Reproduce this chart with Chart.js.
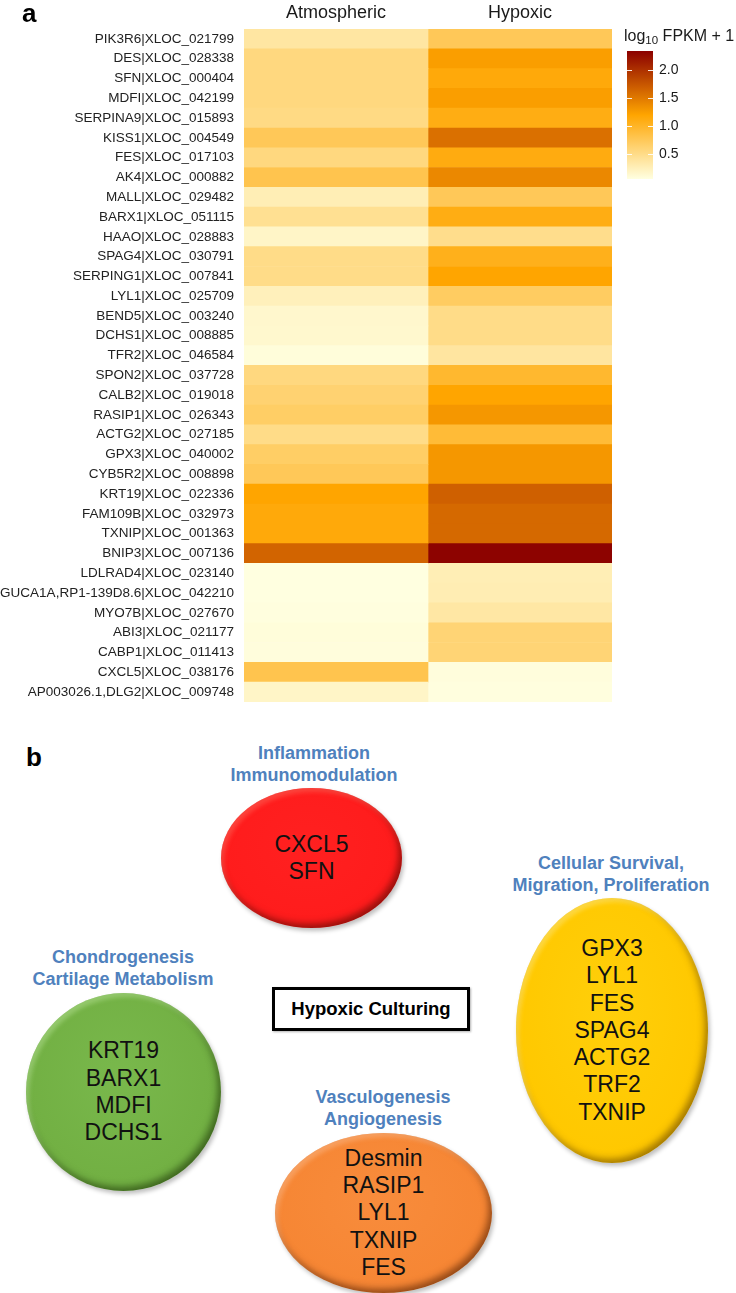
<!DOCTYPE html>
<html>
<head>
<meta charset="utf-8">
<script src="https://cdn.jsdelivr.net/npm/chart.js@4.4.1/dist/chart.umd.min.js"></script>
<style>
  html,body{margin:0;padding:0;background:#fff}
  body{width:736px;height:1293px;position:relative;overflow:hidden;font-family:"Liberation Sans",Arial,sans-serif;color:#1a1a1a}
  #heat{position:absolute;left:0;top:0}
  .panel{position:absolute;font-weight:bold;font-size:26px;color:#000}
  .ltitle{position:absolute;left:624px;top:27px;font-size:16px;white-space:nowrap;color:#1a1a1a}
  .ltitle sub{font-size:11.5px;vertical-align:-3px}
  .head{position:absolute;width:260px;margin-left:-130px;text-align:center;font-weight:bold;font-size:18px;line-height:22px;color:#4f81bd;white-space:nowrap}
  .blob{position:absolute;border-radius:50%;display:flex;flex-direction:column;justify-content:center;align-items:center;font-size:23px;line-height:27.3px;color:#111;box-sizing:border-box}
  .red{background:radial-gradient(ellipse at 48% 42%,#ff2020 0%,#ff1c1c 66%,#e01212 82%,#7a2810 100%);box-shadow:2px 3px 4px rgba(0,0,0,.25),inset 3px 4px 4px rgba(255,140,120,.35),inset -3px -4px 7px rgba(60,10,0,.5)}
  .yellow{background:radial-gradient(ellipse at 48% 42%,#ffcf0a 0%,#ffc800 68%,#e8b000 84%,#7a5e00 100%);box-shadow:2px 3px 4px rgba(0,0,0,.25),inset 3px 4px 4px rgba(255,240,160,.4),inset -3px -4px 7px rgba(80,50,0,.5)}
  .green{background:radial-gradient(ellipse at 48% 42%,#79b84c 0%,#72b043 66%,#5f9836 82%,#2a5214 100%);box-shadow:2px 3px 4px rgba(0,0,0,.25),inset 3px 4px 4px rgba(200,240,170,.4),inset -3px -4px 7px rgba(20,40,0,.5)}
  .orange{background:radial-gradient(ellipse at 48% 42%,#f88c3c 0%,#f68634 66%,#e07424 82%,#703408 100%);box-shadow:2px 3px 4px rgba(0,0,0,.25),inset 3px 4px 4px rgba(255,200,160,.4),inset -3px -4px 7px rgba(60,20,0,.5)}
  .box{position:absolute;left:272px;top:987px;width:198px;height:44px;border:3px solid #000;box-sizing:border-box;display:flex;align-items:center;justify-content:center;font-weight:bold;font-size:18.5px;color:#000;box-shadow:1px 1px 2px rgba(0,0,0,.3)}
</style>
</head>
<body>
<canvas id="heat" width="736" height="720"></canvas>
<div class="panel" style="left:22px;top:-2px">a</div>
<div class="ltitle">log<sub>10</sub> FPKM + 1</div>

<div class="panel" style="left:26px;top:742px">b</div>
<div id="partB"></div>

<script>
// heatmap rows (top to bottom)
const genes = ['PIK3R6|XLOC_021799','DES|XLOC_028338','SFN|XLOC_000404','MDFI|XLOC_042199','SERPINA9|XLOC_015893',
  'KISS1|XLOC_004549','FES|XLOC_017103','AK4|XLOC_000882','MALL|XLOC_029482','BARX1|XLOC_051115','HAAO|XLOC_028883',
  'SPAG4|XLOC_030791','SERPING1|XLOC_007841','LYL1|XLOC_025709','BEND5|XLOC_003240','DCHS1|XLOC_008885','TFR2|XLOC_046584',
  'SPON2|XLOC_037728','CALB2|XLOC_019018','RASIP1|XLOC_026343','ACTG2|XLOC_027185','GPX3|XLOC_040002','CYB5R2|XLOC_008898',
  'KRT19|XLOC_022336','FAM109B|XLOC_032973','TXNIP|XLOC_001363','BNIP3|XLOC_007136','LDLRAD4|XLOC_023140',
  'GUCA1A,RP1-139D8.6|XLOC_042210','MYO7B|XLOC_027670','ABI3|XLOC_021177','CABP1|XLOC_011413','CXCL5|XLOC_038176',
  'AP003026.1,DLG2|XLOC_009748']
const columns = ['Atmospheric','Hypoxic']
// log10 FPKM + 1
const atmospheric = [0.37,0.55,0.55,0.55,0.52,0.75,0.55,0.80,0.27,0.45,0.18,0.50,0.50,0.24,0.15,0.14,0.08,
  0.55,0.62,0.68,0.50,0.68,0.75,1.20,1.15,1.15,1.65,0.05,0.05,0.06,0.08,0.07,0.80,0.18]
const hypoxic = [0.75,1.25,1.15,1.25,1.10,1.57,1.12,1.40,0.75,1.10,0.48,1.06,1.20,0.70,0.50,0.50,0.38,
  0.96,1.20,1.30,0.92,1.30,1.30,1.68,1.62,1.62,2.33,0.27,0.28,0.36,0.60,0.60,0.07,0.06]
const legendTicks = [0.5,1.0,1.5,2.0]
const scaleMin = 0.05, scaleMax = 2.35

// part b diagram
const groups = [
  {title:['Inflammation','Immunomodulation'], genes:['CXCL5','SFN'], cls:'red', hx:314, hy:742, box:[221,788,181,140]},
  {title:['Cellular Survival,','Migration, Proliferation'], genes:['GPX3','LYL1','FES','SPAG4','ACTG2','TRF2','TXNIP'], cls:'yellow', hx:611, hy:852, box:[516,898,192,265]},
  {title:['Chondrogenesis','Cartilage Metabolism'], genes:['KRT19','BARX1','MDFI','DCHS1'], cls:'green', hx:123, hy:946, box:[26,993,195,198]},
  {title:['Vasculogenesis','Angiogenesis'], genes:['Desmin','RASIP1','LYL1','TXNIP','FES'], cls:'orange', hx:383, hy:1086, box:[275,1133,217,160]}
]

const stops = [[0,[255,255,224]],[0.5,[255,165,0]],[1,[139,0,0]]]
function heatColor(v){
  let t = (v-scaleMin)/(scaleMax-scaleMin)
  t = Math.max(0,Math.min(1,t))
  for(let i=1;i<stops.length;i++){
    if(t<=stops[i][0]){
      const a=stops[i-1], b=stops[i], f=(t-a[0])/(b[0]-a[0])
      const c=a[1].map((x,k)=>Math.round(x+(b[1][k]-x)*f))
      return 'rgb('+c.join(',')+')'
    }
  }
  return 'rgb(139,0,0)'
}

const colorBar = {
  id:'colorBar',
  afterDraw(chart){
    const ctx = chart.ctx
    const x0=627, w=26, top=51, bottom=179
    const yOf = v => bottom-(v-scaleMin)/(scaleMax-scaleMin)*(bottom-top)
    const g = ctx.createLinearGradient(0,bottom,0,top)
    for(let i=0;i<=20;i++){ g.addColorStop(i/20, heatColor(scaleMin+(scaleMax-scaleMin)*i/20)) }
    ctx.save()
    ctx.fillStyle=g
    ctx.fillRect(x0,top,w,bottom-top)
    ctx.strokeStyle='rgba(255,255,255,0.9)'
    ctx.lineWidth=1
    ctx.font='14px "Liberation Sans", Arial, sans-serif'
    ctx.fillStyle='#1a1a1a'
    ctx.textBaseline='middle'
    legendTicks.forEach(v=>{
      const y=Math.round(yOf(v))+0.5
      ctx.beginPath()
      ctx.moveTo(x0,y);ctx.lineTo(x0+5,y)
      ctx.moveTo(x0+w-5,y);ctx.lineTo(x0+w,y)
      ctx.stroke()
      ctx.fillText(v.toFixed(1), x0+w+6, y)
    })
    ctx.restore()
  }
}

new Chart(document.getElementById('heat'), {
  type:'bar',
  data:{
    labels:genes,
    datasets:[
      {label:columns[0], data:atmospheric.map(()=>[0,1]), backgroundColor:atmospheric.map(heatColor)},
      {label:columns[1], data:hypoxic.map(()=>[1,2]), backgroundColor:hypoxic.map(heatColor)}
    ]
  },
  options:{
    responsive:false, animation:false, indexAxis:'y',
    layout:{padding:{left:0,top:0,right:124,bottom:7}},
    plugins:{legend:{display:false}, tooltip:{enabled:false}},
    datasets:{bar:{barPercentage:1, categoryPercentage:1, borderWidth:0, grouped:false}},
    scales:{
      x:{
        type:'linear', position:'top', min:0, max:2,
        grid:{display:false, drawTicks:false}, border:{display:false},
        afterBuildTicks:s=>{ s.ticks = columns.map((c,i)=>({value:i+0.5})) },
        afterFit:s=>{ s.height = 29 },
        ticks:{autoSkip:false, maxRotation:0, padding:5, color:'#1a1a1a',
          font:{family:'"Liberation Sans", Arial, sans-serif', size:18},
          callback:(v,i)=>columns[i]}
      },
      y:{
        grid:{display:false, drawTicks:false}, border:{display:false},
        afterFit:s=>{ s.width = 244 },
        ticks:{autoSkip:false, padding:10, color:'#222',
          font:{family:'"Liberation Sans", Arial, sans-serif', size:13.5}}
      }
    }
  },
  plugins:[colorBar]
})

const partB = document.getElementById('partB')
groups.forEach(gr=>{
  const h = document.createElement('div')
  h.className='head'
  h.style.left=gr.hx+'px'; h.style.top=gr.hy+'px'
  h.innerHTML=gr.title.join('<br>')
  partB.appendChild(h)
  const b = document.createElement('div')
  b.className='blob '+gr.cls
  b.style.left=gr.box[0]+'px'; b.style.top=gr.box[1]+'px'
  b.style.width=gr.box[2]+'px'; b.style.height=gr.box[3]+'px'
  b.innerHTML=gr.genes.map(t=>'<div>'+t+'</div>').join('')
  partB.appendChild(b)
})
const box = document.createElement('div')
box.className='box'; box.textContent='Hypoxic Culturing'
partB.appendChild(box)
</script>
</body>
</html>
